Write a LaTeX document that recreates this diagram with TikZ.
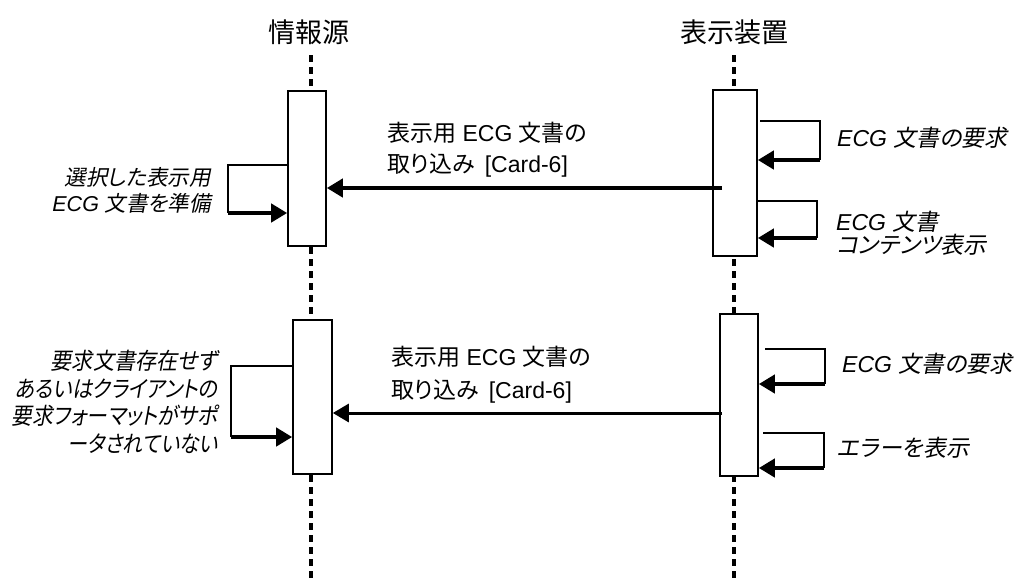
\documentclass[tikz,border=0pt]{standalone}
\usepackage{graphicx}
\usepackage{fontspec}
\setmainfont{Liberation Sans}
\newfontfamily\jp{Noto Sans CJK JP}[RawFeature=+palt]
\newfontfamily\jpi{Noto Sans CJK JP}[FakeSlant=0.2, RawFeature=+palt]
\newcommand\J[1]{{\jp #1}}
\newcommand\JI[1]{{\jpi #1}}
\newcommand\fitw[2]{\resizebox{#1}{\height}{#2}}
\usetikzlibrary{arrows.meta}
\tikzset{
  lifeline/.style={line width=3.4pt, dash pattern=on 7pt off 5pt},
  actbox/.style={draw, fill=white, line width=1.6pt, inner sep=0pt},
  thinline/.style={line width=1.5pt},
  bigtip/.style={-{Triangle[length=16pt,width=18pt]}},
  callthick/.style={line width=4.2pt, bigtip},
  callthin/.style={line width=3pt, bigtip},
  selfret/.style={line width=4.4pt, bigtip},
  title/.style={font=\jp\fontsize{27}{30}\selectfont, inner sep=0pt},
  msglabel/.style={align=left, inner sep=0pt, anchor=west},
  selflabel/.style={inner sep=0pt, font=\itshape\fontsize{23}{25}\selectfont},
}
\begin{document}
\begin{tikzpicture}[x=1pt,y=-1pt]
\useasboundingbox (0,0) rectangle (1024,581);
% titles
\node[title] (tA) at (309,32) {情報源};
\node[title] (tB) at (734,32) {表示装置};
% lifelines
\coordinate (Atop) at (311,55); \coordinate (Abot) at (311,581);
\coordinate (Btop) at (734,55); \coordinate (Bbot) at (734,581);
\draw[lifeline] (Atop) -- (Abot);
\draw[lifeline] (Btop) -- (Bbot);
% activation boxes
\node[actbox, minimum width=38pt, minimum height=155pt] (A1) at (307,168.5) {};
\node[actbox, minimum width=39pt, minimum height=154pt] (A2) at (312.5,397) {};
\node[actbox, minimum width=44pt, minimum height=166pt] (B1) at (735,173) {};
\node[actbox, minimum width=38pt, minimum height=162pt] (B2) at (739,395) {};
% main message 1
\coordinate (m1s) at (722,188);
\draw[callthick] (m1s) -- (A1.east |- m1s);
\node[msglabel, font=\fontsize{23}{31}\selectfont] (m1l) at (387,150)
  {\J{表示用} ECG \J{文書の}\\\J{取り込み}\hspace{10pt}[Card-6]};
% main message 2
\coordinate (m2s) at (722,413);
\draw[callthin] (m2s) -- (A2.east |- m2s);
\node[msglabel, font=\fontsize{23}{33}\selectfont] (m2l) at (391,375)
  {\J{表示用} ECG \J{文書の}\\\J{取り込み}\hspace{10pt}[Card-6]};
% left self message 1
\coordinate (l1a) at (228,165); \coordinate (l1b) at (228,213);
\draw[thinline] (A1.west |- l1a) -- (l1a) -- (l1b);
\draw[selfret] (l1b) -- (A1.west |- l1b);
\node[selflabel, align=right, anchor=east, font=\itshape\fontsize{21.5}{26}\selectfont] (l1t) at (211,190)
  {\JI{選択した表示用}\\ECG \JI{文書を準備}};
% left self message 2
\coordinate (l2a) at (231,366); \coordinate (l2b) at (231,437);
\draw[thinline] (A2.west |- l2a) -- (l2a) -- (l2b);
\draw[selfret] (l2b) -- (A2.west |- l2b);
\node[selflabel, align=right, anchor=east, font=\itshape\fontsize{23}{27.7}\selectfont] (l2t) at (218,402)
  {\fitw{167pt}{\JI{要求文書存在せず}}\\\fitw{203pt}{\JI{あるいはクライアントの}}\\\fitw{206pt}{\JI{要求フォーマットがサポ}}\\\fitw{150pt}{\JI{ータされていない}}};
% right self message 1
\coordinate (r1s) at (760,121); \coordinate (r1a) at (820,121); \coordinate (r1b) at (820,160);
\draw[thinline] (r1s) -- (r1a) -- (r1b);
\draw[selfret] (r1b) -- (B1.east |- r1b);
\node[selflabel, anchor=west] (r1t) at (837,138) {ECG \JI{文書の要求}};
% right self message 2
\coordinate (r2a) at (817,201); \coordinate (r2b) at (817,238);
\draw[thinline] (B1.east |- r2a) -- (r2a) -- (r2b);
\draw[selfret] (r2b) -- (B1.east |- r2b);
\node[selflabel, anchor=west, align=left, font=\itshape\fontsize{23}{23}\selectfont] (r2t) at (836,233)
  {ECG \JI{文書}\\\JI{コンテンツ表示}};
% right self message 3
\coordinate (r3s) at (765,349); \coordinate (r3a) at (825,349); \coordinate (r3b) at (825,384);
\draw[thinline] (r3s) -- (r3a) -- (r3b);
\draw[selfret] (r3b) -- (B2.east |- r3b);
\node[selflabel, anchor=west] (r3t) at (842,364) {ECG \JI{文書の要求}};
% right self message 4
\coordinate (r4s) at (763,433); \coordinate (r4a) at (824,433); \coordinate (r4b) at (824,468);
\draw[thinline] (r4s) -- (r4a) -- (r4b);
\draw[selfret] (r4b) -- (B2.east |- r4b);
\node[selflabel, anchor=west] (r4t) at (837,448) {\JI{エラーを表示}};
\end{tikzpicture}
\end{document}
